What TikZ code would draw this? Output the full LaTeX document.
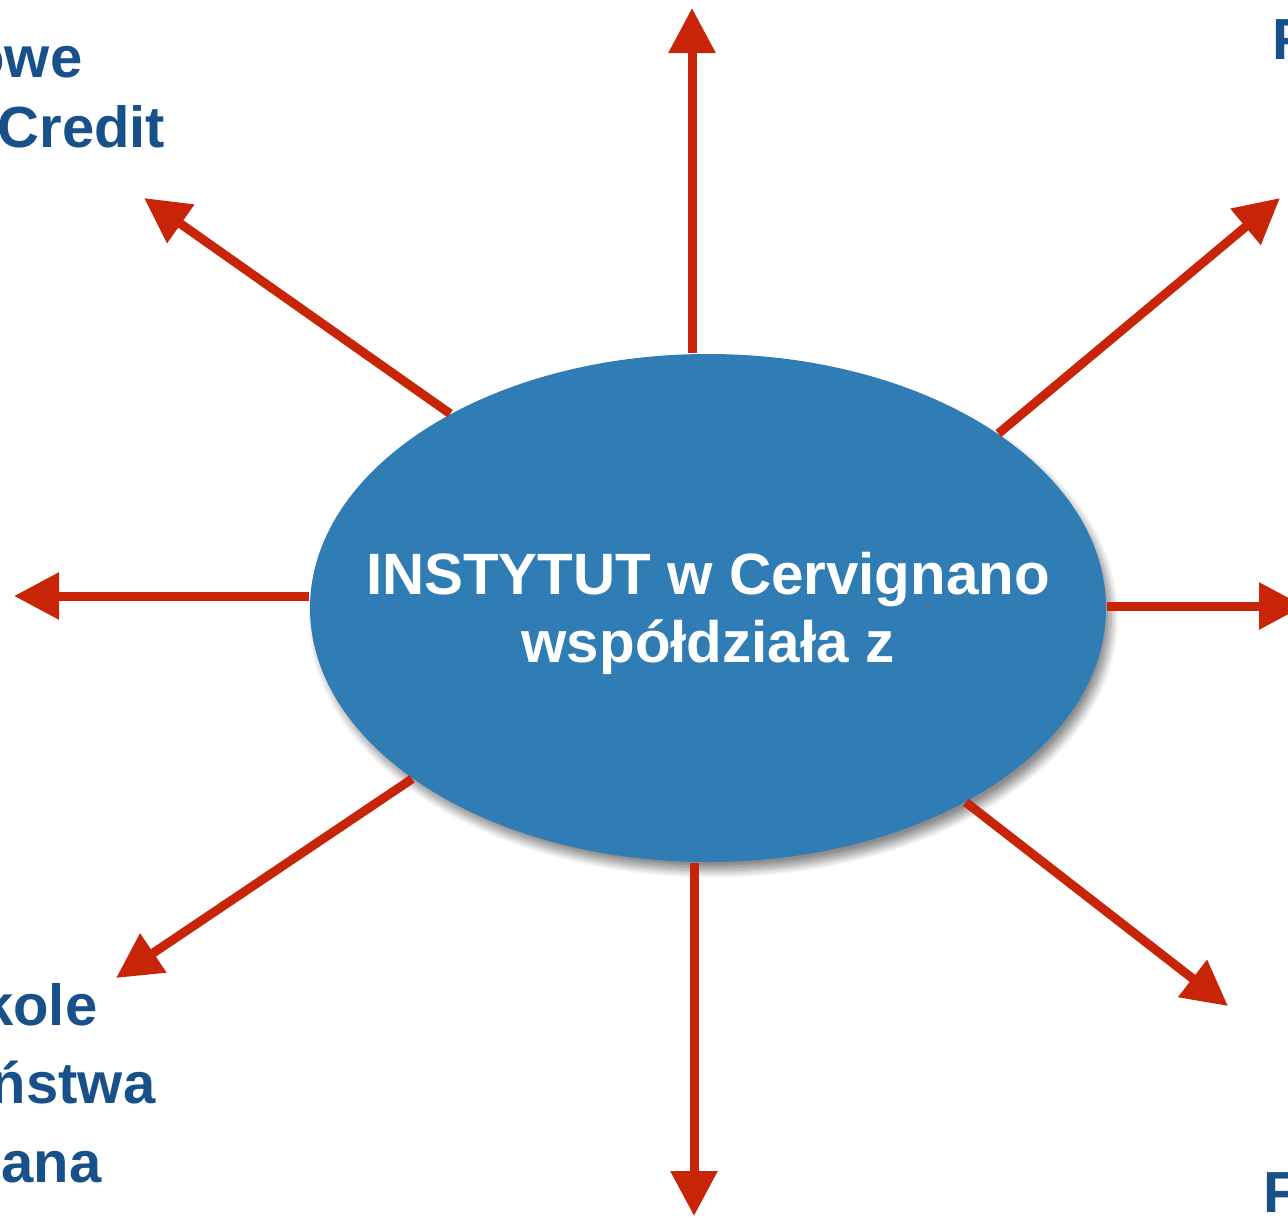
\documentclass[tikz,border=0pt]{standalone}
\usepackage{fontspec}
\setmainfont{Liberation Sans}
\usepackage[usenames,dvipsnames]{xcolor}
\usepackage{tikz}
\usetikzlibrary{arrows.meta,shapes.geometric,shadows.blur}

\definecolor{instblue}{RGB}{47,125,180}
\definecolor{arrred}{RGB}{200,36,8}
\definecolor{labblue}{RGB}{24,80,138}

\begin{document}
\begin{tikzpicture}[arr/.style={-{Triangle[length=0.45cm,width=0.45cm]},line width=0.09cm,color=arrred},
  lab/.style={inner sep=0pt,text=labblue,font=\fontsize{16.5pt}{20pt}\selectfont\bfseries}]
 \useasboundingbox (0,0) rectangle (12.88,-12.18);
 \draw (7.08,-6.08) node[ellipse,fill=instblue,minimum width=7.96cm,minimum height=5.08cm,inner sep=0pt,
   blur shadow={shadow xshift=1.5pt,shadow yshift=-2.5pt,shadow blur steps=12,shadow opacity=45}] (ins) {};
 \draw (7.08,-6.13) node[align=center,text=white,font=\fontsize{16.6pt}{19.4pt}\selectfont\bfseries] (insText) {INSTYTUT w Cervignano\\współdziała z};

  \draw (0.83,-0.77) node[lab,anchor=base east] (owe) {owe};
  \draw (1.66,-1.47) node[lab,anchor=base east] (credit) {Credit};
  \draw (12.72,-0.59) node[lab,anchor=base west] (fTop) {F};
  \draw (12.63,-12.12) node[lab,anchor=base west] (fBottom) {F};
  \draw (0.98,-10.25) node[lab,anchor=base east] (kole) {kole};
  \draw (1.56,-11.03) node[lab,anchor=base east] (nstwa) {ństwa};
  \draw (1.02,-11.82) node[lab,anchor=base east] (ana) {ana};

    \draw (6.92,-0.08) coordinate (up);
    \draw (6.94,-12.16) coordinate (down);
    \draw (0.14,-5.96) coordinate (left);
    \draw (13.04,-6.06) coordinate (right);
    \draw (1.44,-1.98) coordinate (upLeft);
    \draw (12.80,-1.98) coordinate (upRight);
    \draw (1.16,-9.78) coordinate (downLeft);
    \draw (12.28,-10.06) coordinate (downRight);

     \path[arr] (ins.north -| up) edge (up);
     \path[arr] (ins.south -| down) edge (down);
     \path[arr] (left -| ins.west) edge (left);
     \path[arr] (right -| ins.east) edge (right);
     \path[arr] (ins.143.4) edge (upLeft);
     \path[arr] (ins.31.3) edge (upRight);
     \path[arr] (ins.210.2) edge (downLeft);
     \path[arr] (ins.323.8) edge (downRight);
\end{tikzpicture}
\end{document}
